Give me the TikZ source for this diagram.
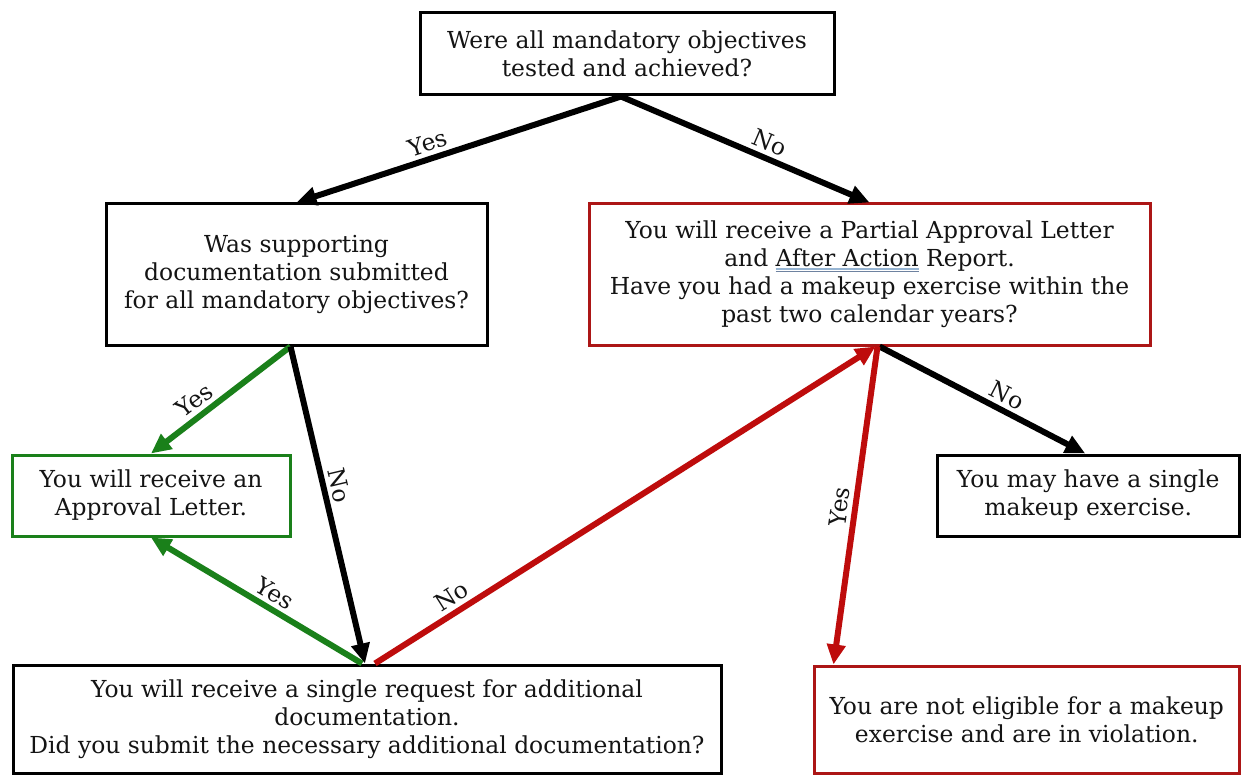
\documentclass[tikz,border=0pt]{standalone}
\usepackage{fontspec}
\setmainfont{DejaVu Serif}
\usetikzlibrary{arrows.meta,calc}
\definecolor{gr}{RGB}{26,128,26}
\definecolor{rd}{RGB}{190,12,12}
\definecolor{rdb}{RGB}{172,22,22}
\definecolor{ulA}{RGB}{150,180,210}
\definecolor{ulB}{RGB}{110,130,160}
\newcommand\ulAA[1]{\setbox0\hbox{#1}\rlap{\textcolor{ulA}{\rule[-3pt]{\wd0}{1.5pt}}}\rlap{\textcolor{ulB}{\rule[-5pt]{\wd0}{1.2pt}}}\box0\relax}
\tikzset{
  box/.style={draw, line width=3pt, align=center, inner sep=0pt,
    font=\fontsize{23.4}{28}\selectfont, text=black!92},
  arr/.style={line width=6pt, -{Triangle[length=20pt,width=18pt]}},
  lbl/.style={sloped, above, inner sep=4pt, font=\fontsize{23.4}{28}\selectfont, text=black!92}
}
\begin{document}
\begin{tikzpicture}[x=1pt,y=-1pt]
\fill[white] (0,0) rectangle (1241,775);
\useasboundingbox (0,0) rectangle (1241,775);

\node[box, minimum width=414pt, minimum height=82pt] (A) at (627,54)
  {Were all mandatory objectives\\tested and achieved?};
\node[box, minimum width=381pt, minimum height=141pt] (B) at (296.5,274.5)
  {Was supporting\\documentation submitted\\for all mandatory objectives?};
\node[box, draw=rdb, minimum width=561pt, minimum height=141pt] (E) at (869.5,274.5)
  {You will receive a Partial Approval Letter\\and \ulAA{After Action} Report.\\Have you had a makeup exercise within the\\past two calendar years?};
\node[box, draw=gr, minimum width=278pt, minimum height=81pt] (C) at (151,495.5)
  {You will receive an\\Approval Letter.};
\node[box, minimum width=302.5pt, minimum height=81pt] (F) at (1088.25,495.5)
  {You may have a single\\makeup exercise.};
\node[box, minimum width=708pt, minimum height=108.5pt] (D) at (367,719.25)
  {You will receive a single request for additional\\documentation.\\Did you submit the necessary additional documentation?};
\node[box, draw=rdb, minimum width=425.5pt, minimum height=107.5pt] (G) at (1026.75,719.75)
  {You are not eligible for a makeup\\exercise and are in violation.};

\draw[arr] ([xshift=-6pt]A.south) -- (B.north) node[lbl,pos=0.58]{Yes};
\draw[arr] ([xshift=-6pt]A.south) -- (E.north) node[lbl,pos=0.575]{No};
\draw[arr,gr] ([xshift=-6pt]B.south) -- (C.north) node[lbl,pos=0.62]{Yes};
\draw[arr,gr] ([xshift=-5pt]D.north) -- (C.south) node[lbl,pos=0.45]{Yes};
\draw[arr] ([xshift=-6pt]B.south) -- ([xshift=-2pt]D.north) node[lbl,pos=0.45]{No};
\draw[arr,rd] ([xshift=8pt]D.north) -- ([xshift=6pt]E.south) node[lbl,pos=0.17]{No};
\draw[arr] ([xshift=10pt]E.south) -- ([xshift=-3pt]F.north) node[lbl,pos=0.585]{No};
\draw[arr,rd] ([xshift=8pt]E.south) -- ([xshift=21pt]G.north west) node[lbl,pos=0.51]{Yes};
\end{tikzpicture}
\end{document}
